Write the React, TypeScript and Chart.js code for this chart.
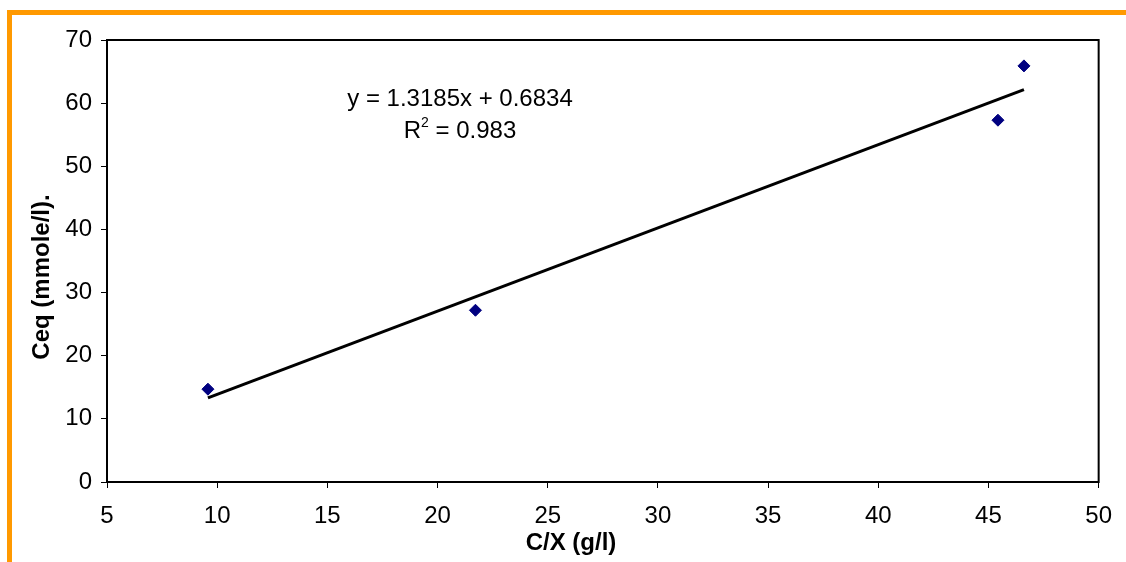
import React, { useEffect, useRef } from 'react';
import { Chart, registerables } from 'chart.js';

Chart.register(...registerables);

// ---- data ----
const xValues = [9.58, 21.72, 45.43, 46.61];
const yValues = [14.7, 27.2, 57.3, 65.9];
const trendSlope = 1.3185;
const trendIntercept = 0.6834;
const rSquaredLabel = '0.983';
const xTickValues = [5, 10, 15, 20, 25, 30, 35, 40, 45, 50];
const yTickValues = [0, 10, 20, 30, 40, 50, 60, 70];
const xTitle = 'C/X (g/l)';
const yTitle = 'Ceq (mmole/l).';
const equationLabel = 'y = 1.3185x + 0.6834';

const FONT = '"Liberation Sans", Arial, sans-serif';

const decorPlugin = {
  id: 'decor',
  beforeDraw(chart: any) {
    const ctx = chart.ctx;
    ctx.save();
    ctx.fillStyle = '#ffffff';
    ctx.fillRect(0, 0, chart.width, chart.height);
    ctx.fillStyle = '#FF9900';
    ctx.fillRect(7, 10, chart.width - 7, 5);
    ctx.fillRect(7, 10, 5, chart.height - 10);
    ctx.restore();
  },
  beforeDatasetsDraw(chart: any) {
    const { ctx, chartArea } = chart;
    ctx.save();
    ctx.strokeStyle = '#000000';
    ctx.lineWidth = 2;
    ctx.strokeRect(chartArea.left, chartArea.top, chartArea.right - chartArea.left, chartArea.bottom - chartArea.top);
    ctx.restore();
  },
  afterDraw(chart: any) {
    const ctx = chart.ctx;
    ctx.save();
    ctx.fillStyle = '#000000';
    ctx.textBaseline = 'middle';
    ctx.textAlign = 'center';
    // x title
    ctx.font = `bold 24px ${FONT}`;
    ctx.fillText(xTitle, 571, 543);
    // y title
    ctx.save();
    ctx.translate(42, 277);
    ctx.rotate(-Math.PI / 2);
    ctx.fillText(yTitle, 0, 0);
    ctx.restore();
    // equation
    ctx.font = `24px ${FONT}`;
    ctx.fillText(equationLabel, 460, 99);
    // R^2 line
    const rest = ' = ' + rSquaredLabel;
    ctx.textAlign = 'left';
    const wR = ctx.measureText('R').width;
    ctx.font = `14px ${FONT}`;
    const w2 = ctx.measureText('2').width;
    ctx.font = `24px ${FONT}`;
    const wRest = ctx.measureText(rest).width;
    const total = wR + w2 + wRest;
    let x = 460 - total / 2;
    ctx.fillText('R', x, 131);
    x += wR;
    ctx.font = `14px ${FONT}`;
    ctx.fillText('2', x, 123);
    x += w2;
    ctx.font = `24px ${FONT}`;
    ctx.fillText(rest, x, 131);
    ctx.restore();
  },
};

export default function App() {
  const canvasRef = useRef<HTMLCanvasElement | null>(null);

  useEffect(() => {
    if (!canvasRef.current) return;
    const points = xValues.map((x, i) => ({ x, y: yValues[i] }));
    const xStart = xValues[0];
    const xEnd = xValues[xValues.length - 1];
    const trend = [
      { x: xStart, y: trendSlope * xStart + trendIntercept },
      { x: xEnd, y: trendSlope * xEnd + trendIntercept },
    ];
    const chart = new Chart(canvasRef.current, {
      type: 'scatter',
      data: {
        datasets: [
          {
            type: 'line',
            data: trend,
            borderColor: '#000000',
            borderWidth: 3,
            pointRadius: 0,
            showLine: true,
            fill: false,
          } as any,
          {
            type: 'scatter',
            data: points,
            pointStyle: 'rectRot',
            pointRadius: 6,
            pointHoverRadius: 6,
            backgroundColor: '#000080',
            borderColor: '#000080',
            borderWidth: 1,
          } as any,
        ],
      },
      options: {
        animation: false,
        responsive: false,
        maintainAspectRatio: false,
        layout: { padding: { left: 0, top: 40, right: 19, bottom: 0 } },
        plugins: { legend: { display: false }, tooltip: { enabled: false } },
        scales: {
          x: {
            type: 'linear',
            min: xTickValues[0],
            max: xTickValues[xTickValues.length - 1],
            afterFit: (s: any) => { s.height = 80; },
            afterBuildTicks: (s: any) => { s.ticks = xTickValues.map((v) => ({ value: v })); },
            ticks: { color: '#000000', font: { family: FONT, size: 24 }, padding: 14, maxRotation: 0 },
            grid: { display: true, drawOnChartArea: false, drawTicks: true, tickLength: 6, tickColor: '#000000', lineWidth: 1 },
            border: { display: false },
          },
          y: {
            type: 'linear',
            min: yTickValues[0],
            max: yTickValues[yTickValues.length - 1],
            afterFit: (s: any) => { s.width = 107; },
            afterBuildTicks: (s: any) => { s.ticks = yTickValues.map((v) => ({ value: v })); },
            ticks: { color: '#000000', font: { family: FONT, size: 24 }, padding: 9 },
            grid: { display: true, drawOnChartArea: false, drawTicks: true, tickLength: 6, tickColor: '#000000', lineWidth: 1 },
            border: { display: false },
          },
        },
      },
      plugins: [decorPlugin],
    });
    return () => chart.destroy();
  }, []);

  return (
    <div style={{ position: 'absolute', left: 0, top: 0, width: 1126, height: 562, background: '#ffffff' }}>
      <canvas ref={canvasRef} width={1126} height={562} style={{ display: 'block' }} />
    </div>
  );
}
